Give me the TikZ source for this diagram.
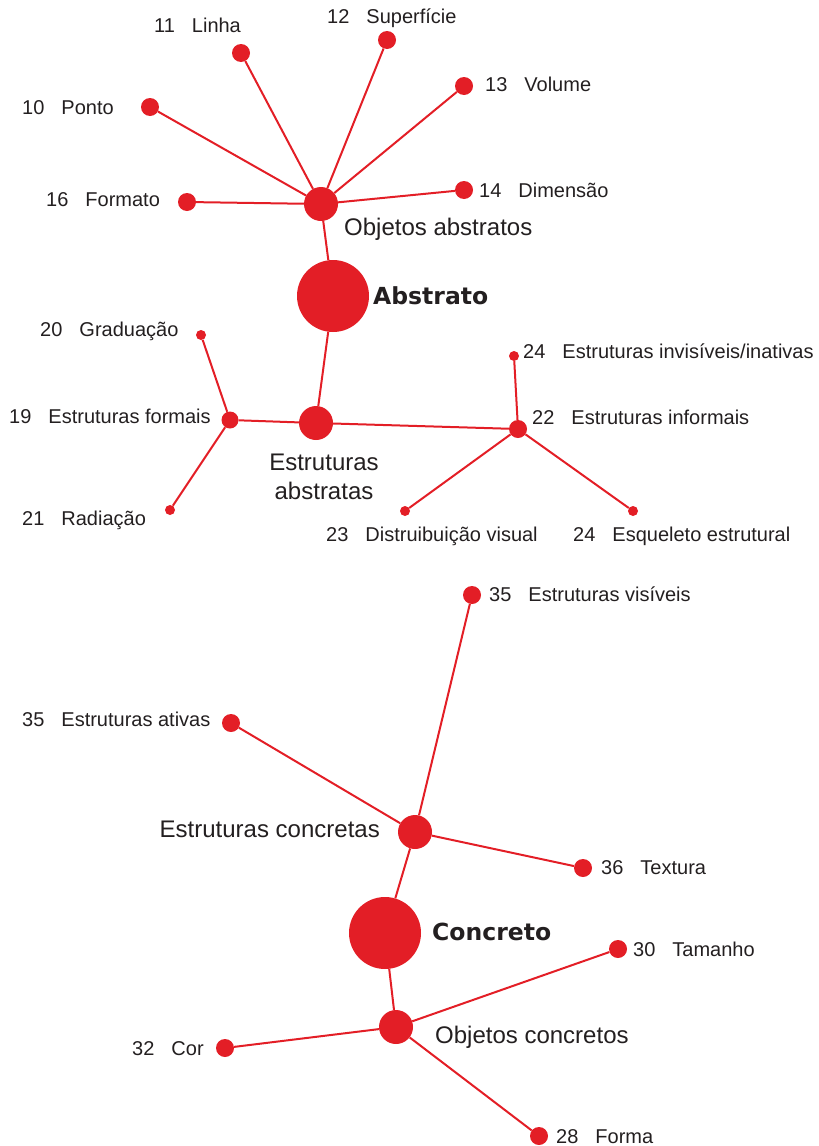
\documentclass[tikz,border=0pt]{standalone}
\usepackage{fontspec}
\setmainfont{Liberation Sans}
\newfontfamily\heavyfont{DejaVu Sans}[BoldFont={DejaVu Sans Bold}]
\usepackage{xcolor}
\usepackage{tikz}
\usetikzlibrary{positioning}
\definecolor{mapred}{RGB}{227,30,38}
\definecolor{ink}{RGB}{35,31,32}
\newcommand{\gap}{\hspace{0.85em}}
\tikzstyle{core} = [circle, fill=mapred, inner sep=0pt, minimum size=72pt]
\tikzstyle{hub} = [circle, fill=mapred, inner sep=0pt, minimum size=34pt]
\tikzstyle{dot} = [circle, fill=mapred, inner sep=0pt, minimum size=18pt]
\tikzstyle{tinydot} = [circle, fill=mapred, inner sep=0pt, minimum size=10pt]
\tikzstyle{lbl} = [inner sep=0pt, yshift=-5pt, text=ink, font=\fontsize{20}{24}\selectfont]
\tikzstyle{biglbl} = [inner sep=0pt, yshift=-5pt, text=ink, font=\fontsize{24}{29}\selectfont]
\tikzstyle{corelbl} = [inner sep=0pt, yshift=-5pt, text=ink, font=\heavyfont\bfseries\fontsize{23.5}{28}\selectfont]
\tikzstyle{link} = [draw=mapred, line width=2pt]

\begin{document}
\begin{tikzpicture}[x=1pt, y=-1pt]
\useasboundingbox (0,0) rectangle (819,1146);

% Abstrato branch
\node[core] (abs) at (333,296) {};
\node[hub] (oa) at (321,204) {};
\node[hub] (ea) at (316,423) {};

\node[dot] (p10) at (150,107) {};
\node[dot] (p11) at (241,53) {};
\node[dot] (p12) at (387,40) {};
\node[dot] (p13) at (464,86) {};
\node[dot] (p14) at (464,190) {};
\node[dot] (p16) at (187,202) {};

\node[dot, minimum size=17pt] (p19) at (230,420) {};
\node[tinydot] (p20) at (201,335) {};
\node[tinydot] (p21) at (170,510) {};
\node[dot] (p22) at (518,429) {};
\node[tinydot] (p24a) at (514,356) {};
\node[tinydot] (p23) at (405,511) {};
\node[tinydot] (p24b) at (633,511) {};

% Concreto branch
\node[core] (con) at (385,933) {};
\node[hub] (ec) at (415,832) {};
\node[hub] (oc) at (396,1027) {};

\node[dot] (p35a) at (472,595) {};
\node[dot] (p35b) at (231,723) {};
\node[dot] (p36) at (583,868) {};
\node[dot] (p30) at (618,949) {};
\node[dot] (p32) at (225,1048) {};
\node[dot] (p28) at (539,1136) {};

% labels
\node[corelbl, anchor=mid west] (tabs) at (373,297) {Abstrato};
\node[biglbl, anchor=mid west] (toa) at (344,228) {Objetos abstratos};
\node[biglbl, align=center] (tea) at (324,472) {Estruturas\\abstratas};

\node[lbl, anchor=mid west] (t10) at (22,107) {10\gap Ponto};
\node[lbl, anchor=mid west] (t11) at (154,25) {11\gap Linha};
\node[lbl, anchor=mid west] (t12) at (327,16) {12\gap Superfície};
\node[lbl, anchor=mid west] (t13) at (485,84) {13\gap Volume};
\node[lbl, anchor=mid west] (t14) at (479,190) {14\gap Dimensão};
\node[lbl, anchor=mid west] (t16) at (46,199) {16\gap Formato};

\node[lbl, anchor=mid west] (t19) at (9,416) {19\gap Estruturas formais};
\node[lbl, anchor=mid west] (t20) at (40,329) {20\gap Graduação};
\node[lbl, anchor=mid west] (t21) at (22,518) {21\gap Radiação};
\node[lbl, anchor=mid west] (t22) at (532,417) {22\gap Estruturas informais};
\node[lbl, anchor=mid west] (t24a) at (523,351) {24\gap Estruturas invisíveis/inativas};
\node[lbl, anchor=mid west] (t23) at (326,534) {23\gap Distruibuição visual};
\node[lbl, anchor=mid west] (t24b) at (573,534) {24\gap Esqueleto estrutural};

\node[corelbl, anchor=mid west] (tcon) at (432,933) {Concreto};
\node[biglbl, anchor=mid east] (tec) at (380,830) {Estruturas concretas};
\node[biglbl, anchor=mid west] (toc) at (435,1036) {Objetos concretos};

\node[lbl, anchor=mid west] (t35a) at (489,594) {35\gap Estruturas visíveis};
\node[lbl, anchor=mid west] (t35b) at (22,719) {35\gap Estruturas ativas};
\node[lbl, anchor=mid west] (t36) at (601,867) {36\gap Textura};
\node[lbl, anchor=mid west] (t30) at (633,949) {30\gap Tamanho};
\node[lbl, anchor=mid west] (t32) at (132,1048) {32\gap Cor};
\node[lbl, anchor=mid west] (t28) at (556,1136) {28\gap Forma};

% links
\draw[link] (oa) -- (p10);
\draw[link] (oa) -- (p11);
\draw[link] (oa) -- (p12);
\draw[link] (oa) -- (p13);
\draw[link] (oa) -- (p14);
\draw[link] (oa) -- (p16);
\draw[link] (oa) -- (abs);
\draw[link] (abs) -- (ea);
\draw[link] (ea) -- (p19);
\draw[link] (ea) -- (p22);
\draw[link] (p19) -- (p20);
\draw[link] (p19) -- (p21);
\draw[link] (p22) -- (p24a);
\draw[link] (p22) -- (p23);
\draw[link] (p22) -- (p24b);

\draw[link] (ec) -- (p35a);
\draw[link] (ec) -- (p35b);
\draw[link] (ec) -- (p36);
\draw[link] (ec) -- (con);
\draw[link] (con) -- (oc);
\draw[link] (oc) -- (p30);
\draw[link] (oc) -- (p32);
\draw[link] (oc) -- (p28);

\end{tikzpicture}
\end{document}
